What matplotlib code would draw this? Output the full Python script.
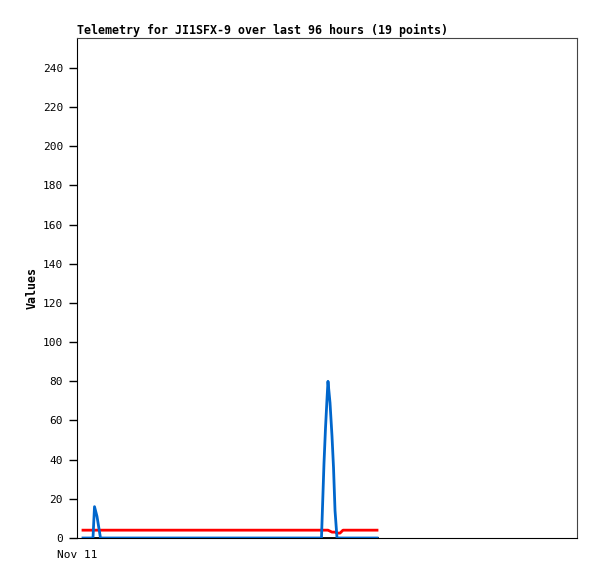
import matplotlib
matplotlib.use("Agg")
import matplotlib.pyplot as plt
import numpy as np

# hours since Nov 11 00:00 (axis spans 96 hours)
hours = [1.15, 3.07, 3.36, 3.84, 4.51, 46.94, 47.23, 47.42, 47.71, 48.0,
         48.19, 48.58, 48.96, 49.25, 49.54, 49.92, 50.5, 51.07, 57.6]
blue = [0, 0, 16, 11, 0, 0, 23, 38, 56, 71,
        80, 69, 52, 36, 14, 0, 0, 0, 0]
red = [4, 4, 4, 4, 4, 4, 4, 4, 4, 4,
       4, 3.5, 3, 3, 3, 2.5, 2.5, 4, 4]
black = [0] * len(hours)

y_ticks = list(range(0, 241, 20))
title = "Telemetry for JI1SFX-9 over last 96 hours (19 points)"

plt.rcParams['font.family'] = ['DejaVu Sans Mono']

fig = plt.figure(figsize=(5.97, 5.79), dpi=100)
ax = fig.add_axes([77 / 597, 41 / 579, 500 / 597, 500 / 579])

ax.plot(hours, black, color='black', lw=2, zorder=3)
ax.plot(hours, red, color='#ff0000', lw=2, zorder=4)
ax.plot(hours, blue, color='#0066cc', lw=2, zorder=5)

ax.set_xlim(0, 96)
ax.set_ylim(0, 255.3)
ax.set_yticks(y_ticks)
ax.set_yticklabels([str(v) for v in y_ticks], fontsize=8)
ax.set_xticks([0])
ax.set_xticklabels(["Nov 11"], fontsize=8)
ax.tick_params(axis='x', length=0, pad=9)
ax.tick_params(axis='y', length=6, width=1, pad=4, direction='out')

for s in ['top', 'right']:
    ax.spines[s].set_color('#444444')
ax.spines['left'].set_color('black')
ax.spines['bottom'].set_color('black')

ax.set_ylabel("Values", fontsize=8.4, fontweight='bold', labelpad=3)
ax.set_title(title, fontsize=8.35, fontweight='bold', loc='left', pad=3)

fig.savefig("out.png", dpi=100)
